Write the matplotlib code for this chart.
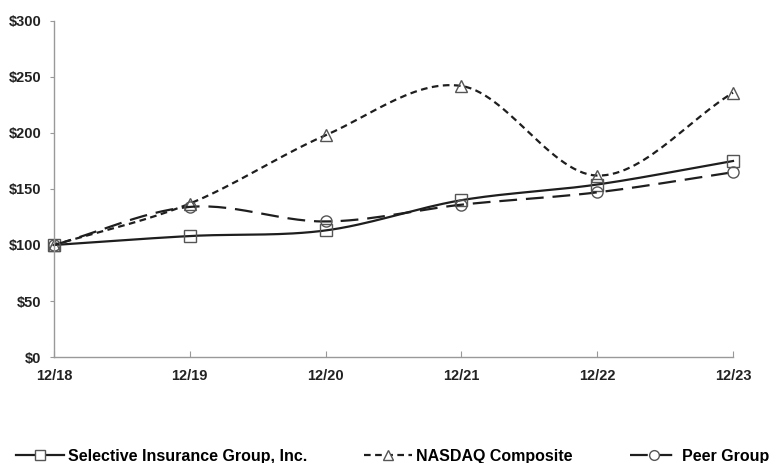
import numpy as np
import matplotlib
matplotlib.use("Agg")
import matplotlib.pyplot as plt
from matplotlib.lines import Line2D

plt.rcParams['font.family'] = ['Liberation Sans', 'DejaVu Sans']
plt.rcParams['font.weight'] = 'bold'

years = ["12/18", "12/19", "12/20", "12/21", "12/22", "12/23"]
selective = [100, 108, 113, 140, 154, 175]
nasdaq = [100, 137, 198, 242, 162, 236]
peer = [100, 134, 121, 136, 147, 165]


def smooth(xs, ys, n=30):
    # Catmull-Rom style smoothing like Excel's smoothed lines
    xs = np.asarray(xs, float)
    ys = np.asarray(ys, float)
    px = np.concatenate([[2 * xs[0] - xs[1]], xs, [2 * xs[-1] - xs[-2]]])
    py = np.concatenate([[2 * ys[0] - ys[1]], ys, [2 * ys[-1] - ys[-2]]])
    ox, oy = [], []
    t = np.linspace(0, 1, n)
    for i in range(1, len(px) - 2):
        p0, p1, p2, p3 = [np.array([px[j], py[j]]) for j in range(i - 1, i + 3)]
        c1 = p1 + (p2 - p0) / 6
        c2 = p2 - (p3 - p1) / 6
        pts = ((1 - t) ** 3)[:, None] * p1 + (3 * (1 - t) ** 2 * t)[:, None] * c1 \
            + (3 * (1 - t) * t ** 2)[:, None] * c2 + (t ** 3)[:, None] * p2
        ox.extend(pts[:, 0])
        oy.extend(pts[:, 1])
    return ox, oy


fig = plt.figure(figsize=(7.73, 4.63), dpi=100)
ax = fig.add_axes([54 / 773, 1 - 357 / 463, (733 - 54) / 773, (357 - 21) / 463])

x = np.arange(len(years))
lc = "#1e1e1e"
mc = "#555555"

sx, sy = smooth(x, selective)
ax.plot(sx, sy, color=lc, lw=1.6, ls="-", clip_on=False)
ax.plot(x, selective, ls="none", marker="s", ms=8, mfc="none", mec=mc, mew=1, clip_on=False)

nx, ny = smooth(x, nasdaq)
ax.plot(nx, ny, color=lc, lw=1.6, ls=(0, (3, 2)), clip_on=False)
ax.plot(x, nasdaq, ls="none", marker="^", ms=8, mfc="none", mec=mc, mew=1, clip_on=False)

gx, gy = smooth(x, peer)
ax.plot(gx, gy, color=lc, lw=1.6, ls=(0, (8, 4)), clip_on=False)
ax.plot(x, peer, ls="none", marker="o", ms=8, mfc="none", mec=mc, mew=1, clip_on=False)

ax.set_xlim(0, len(years) - 1)
ax.set_ylim(0, 300)
ax.set_xticks(x)
ax.set_xticklabels(years)
ax.set_yticks(range(0, 301, 50))
ax.set_yticklabels(["$%d" % v for v in range(0, 301, 50)])
ax.tick_params(axis="both", labelsize=10.5, colors="#222222")
ax.tick_params(axis="y", color="#999999", length=3, pad=6)
ax.tick_params(axis="x", color="#999999", direction="in", length=4, pad=9)
for s in ["top", "right"]:
    ax.spines[s].set_visible(False)
for s in ["left", "bottom"]:
    ax.spines[s].set_color("#999999")
    ax.spines[s].set_linewidth(1)

handles = [
    Line2D([], [], color=lc, lw=1.6, ls="-", marker="s", ms=7, mfc="white", mec=mc),
    Line2D([], [], color=lc, lw=1.6, ls=(0, (3, 2)), marker="^", ms=7, mfc="white", mec=mc),
    Line2D([], [], color=lc, lw=1.6, ls=(0, (8, 3)), marker="o", ms=7, mfc="white", mec=mc),
]
labels = ["Selective Insurance Group, Inc.", "NASDAQ Composite", "Peer Group"]
fig.legend(handles, labels, loc="center", bbox_to_anchor=(0.508, 1 - 456 / 463), ncol=3,
           frameon=False, fontsize=11.5, handlelength=3.0, handletextpad=0.25,
           columnspacing=3.6, borderpad=0, borderaxespad=0)

fig.savefig("out.png", dpi=100)
